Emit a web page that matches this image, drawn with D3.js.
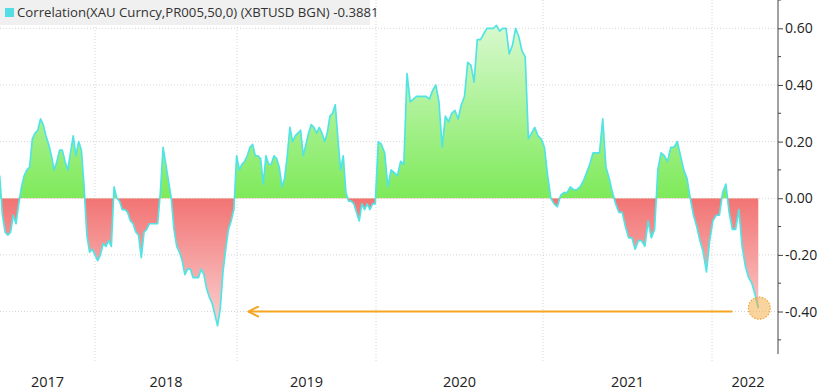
<!DOCTYPE html>
<html>
<head>
<meta charset="utf-8">
<script src="https://cdn.jsdelivr.net/npm/d3@7"></script>
<style>
body { margin: 0; background: #fff; }
svg { display: block; font-family: "Open Sans", sans-serif; }
</style>
</head>
<body>
<svg id="chart"></svg>
<script>
// DATA ////////////////////////////////////////////////////////////////////////////

// 50 day correlation of gold vs bitcoin, one reading per week (Mondays)
var corr2017 = [0.08, -0.06, -0.12, -0.13, -0.12, -0.06, -0.09, -0.02, 0.04, 0.08,
    0.10, 0.11, 0.21, 0.23, 0.24, 0.28, 0.26, 0.22, 0.19, 0.15,
    0.10, 0.13, 0.17, 0.17, 0.13, 0.10, 0.16, 0.22, 0.15, 0.20,
    0.17, 0.04, -0.13, -0.19, -0.18];
var corr2018 = [-0.20, -0.22, -0.20, -0.16, -0.17, -0.15, -0.17, 0.04, 0.00, -0.01,
    -0.04, -0.04, -0.05, -0.08, -0.09, -0.12, -0.13, -0.21, -0.12, -0.11,
    -0.09, -0.09, -0.09, -0.09, 0.02, 0.18, 0.12, 0.06, 0.00, -0.11,
    -0.17, -0.19, -0.22, -0.27, -0.25, -0.25, -0.28, -0.28, -0.28, -0.25,
    -0.27, -0.32, -0.35, -0.37, -0.41, -0.45, -0.39, -0.26, -0.18, -0.11,
    -0.08, -0.04, 0.15];
var corr2019 = [0.10, 0.12, 0.13, 0.15, 0.18, 0.19, 0.15, 0.15, 0.14, 0.05,
    0.15, 0.12, 0.12, 0.15, 0.14, 0.11, 0.04, 0.07, 0.15, 0.25,
    0.20, 0.22, 0.23, 0.24, 0.15, 0.19, 0.23, 0.26, 0.25, 0.23,
    0.25, 0.23, 0.20, 0.23, 0.29, 0.30, 0.33, 0.21, 0.10, 0.15,
    0.02, -0.01, -0.01, -0.02, -0.05, -0.08, -0.02, -0.04, -0.02, -0.04,
    -0.02, -0.02];
var corr2020 = [0.20, 0.19, 0.16, 0.04, 0.10, 0.09, 0.08, 0.13, 0.12, 0.44,
    0.34, 0.35, 0.36, 0.36, 0.36, 0.36, 0.35, 0.38, 0.40, 0.34,
    0.18, 0.29, 0.27, 0.30, 0.31, 0.28, 0.33, 0.36, 0.48, 0.47,
    0.41, 0.56, 0.56, 0.58, 0.60, 0.60, 0.60, 0.61, 0.59, 0.60,
    0.60, 0.51, 0.54, 0.60, 0.57, 0.52, 0.50, 0.21, 0.23, 0.25,
    0.22, 0.21];
var corr2021 = [0.18, 0.08, 0.00, -0.02, -0.03, 0.01, 0.02, 0.02, 0.04, 0.03,
    0.03, 0.04, 0.06, 0.09, 0.12, 0.16, 0.16, 0.16, 0.28, 0.11,
    0.07, 0.02, -0.02, -0.05, -0.05, -0.10, -0.14, -0.14, -0.18, -0.15,
    -0.15, -0.17, -0.08, -0.14, -0.11, 0.10, 0.16, 0.15, 0.13, 0.18,
    0.18, 0.20, 0.15, 0.10, 0.07, 0.00, -0.06, -0.10, -0.15, -0.19,
    -0.26, -0.15];
var corr2022 = [-0.08, -0.06, -0.06, 0.02, 0.05, -0.05, -0.11, -0.11, -0.04, -0.17,
    -0.24, -0.28, -0.30, -0.34, -0.3881];

var legendLabel = "Correlation(XAU Curncy,PR005,50,0) (XBTUSD BGN) -0.3881";
var yearLabels = [2017, 2018, 2019, 2020, 2021, 2022];
var yTicks = [-0.40, -0.20, 0.00, 0.20, 0.40, 0.60];
var yMinorTicks = [-0.50, -0.30, -0.10, 0.10, 0.30, 0.50, 0.70];

// annotation: arrow back to the 2018 low, ring round the latest reading
var arrowLevel = -0.40;
var arrowTail = new Date(2022, 1, 14);
var arrowHead = new Date(2019, 0, 31);

var corrValues = [].concat(corr2017, corr2018, corr2019, corr2020, corr2021, corr2022);
var weeks = d3.timeMonday.range(new Date(2017, 4, 1), new Date(2022, 3, 12));
var dataset = weeks.map(function (d, i) { return { date: d, value: corrValues[i] }; });

// SETUP ///////////////////////////////////////////////////////////////////////////

var WIDTH = 831, HEIGHT = 390;
var AXIS_X = 778, PLOT_BOTTOM = 354;

var svg = d3.select("#chart").attr("width", WIDTH).attr("height", HEIGHT);

// the years are not the same width on the reference, so one piece per year
var x = d3.scaleTime()
    .domain([new Date(2017, 0, 1), new Date(2018, 0, 1), new Date(2019, 0, 1), new Date(2020, 0, 1),
             new Date(2021, 0, 1), new Date(2022, 0, 1), new Date(2023, 0, 1)])
    .range([-47, 95, 237, 376, 543, 712, 881]);

var y = d3.scaleLinear().domain([-0.55, 0.70]).range([PLOT_BOTTOM, 0]);

var fmt = d3.formatLocale({ decimal: ".", thousands: ",", grouping: [3], currency: ["", ""], minus: "-" }).format(".2f");

var defs = svg.append("defs");

var gGreen = defs.append("linearGradient").attr("id", "gradPos")
    .attr("gradientUnits", "userSpaceOnUse")
    .attr("x1", 0).attr("x2", 0).attr("y1", y(0.62)).attr("y2", y(0));
gGreen.append("stop").attr("offset", 0).attr("stop-color", "#d9f9d0");
gGreen.append("stop").attr("offset", 1).attr("stop-color", "#7eea5a");

var gRed = defs.append("linearGradient").attr("id", "gradNeg")
    .attr("gradientUnits", "userSpaceOnUse")
    .attr("x1", 0).attr("x2", 0).attr("y1", y(0)).attr("y2", y(-0.46));
gRed.append("stop").attr("offset", 0).attr("stop-color", "#f27474");
gRed.append("stop").attr("offset", 1).attr("stop-color", "#fbd3d3");

defs.append("clipPath").attr("id", "clipPos")
    .append("rect").attr("x", 0).attr("y", 0).attr("width", AXIS_X).attr("height", y(0));
defs.append("clipPath").attr("id", "clipNeg")
    .append("rect").attr("x", 0).attr("y", y(0)).attr("width", AXIS_X).attr("height", PLOT_BOTTOM - y(0));

// chevron pointing along the line direction
defs.append("marker").attr("id", "arrowHead")
    .attr("viewBox", "0 0 12 12").attr("refX", 11).attr("refY", 6)
    .attr("markerWidth", 12).attr("markerHeight", 12)
    .attr("markerUnits", "userSpaceOnUse").attr("orient", "auto")
    .append("path").attr("d", "M1,1 L11,6 L1,11")
    .attr("fill", "none").attr("stroke", "#f5a623").attr("stroke-width", 2)
    .attr("stroke-linecap", "round").attr("stroke-linejoin", "round");

// GRID ////////////////////////////////////////////////////////////////////////////

svg.append("g").selectAll("line")
    .data(yTicks)
    .enter().append("line")
    .attr("x1", 0).attr("x2", AXIS_X)
    .attr("y1", function (d) { return y(d); })
    .attr("y2", function (d) { return y(d); })
    .attr("stroke", "#d6d6d6").attr("stroke-dasharray", "1,2");

svg.append("g").selectAll("line")
    .data(yearLabels.slice(1))
    .enter().append("line")
    .attr("x1", function (d) { return x(new Date(d, 0, 1)); })
    .attr("x2", function (d) { return x(new Date(d, 0, 1)); })
    .attr("y1", 0).attr("y2", 362)
    .attr("stroke", "#d6d6d6").attr("stroke-dasharray", "1,2");

// AREA + LINE /////////////////////////////////////////////////////////////////////

var area = d3.area()
    .x(function (d) { return x(d.date); })
    .y0(y(0))
    .y1(function (d) { return y(d.value); });

svg.append("path").datum(dataset)
    .attr("d", area).attr("fill", "url(#gradPos)").attr("clip-path", "url(#clipPos)");
svg.append("path").datum(dataset)
    .attr("d", area).attr("fill", "url(#gradNeg)").attr("clip-path", "url(#clipNeg)");

svg.append("path").datum(dataset)
    .attr("d", d3.line().x(function (d) { return x(d.date); }).y(function (d) { return y(d.value); }))
    .attr("fill", "none").attr("stroke", "#52e4e4").attr("stroke-width", 1.7)
    .attr("stroke-linejoin", "round");

// ANNOTATION //////////////////////////////////////////////////////////////////////

svg.append("line")
    .attr("x1", x(arrowTail)).attr("x2", x(arrowHead))
    .attr("y1", y(arrowLevel)).attr("y2", y(arrowLevel))
    .attr("stroke", "#f5a623").attr("stroke-width", 2)
    .attr("marker-end", "url(#arrowHead)");

var last = dataset[dataset.length - 1];
svg.append("circle")
    .attr("cx", x(last.date) + 1).attr("cy", y(last.value))
    .attr("r", 11)
    .attr("fill", "rgba(245,170,60,0.5)")
    .attr("stroke", "#f0a43a").attr("stroke-width", 1.2).attr("stroke-dasharray", "1.5,1.5");

// AXES ////////////////////////////////////////////////////////////////////////////

var yAxis = svg.append("g")
    .attr("transform", "translate(" + AXIS_X + ",0)")
    .call(d3.axisRight(y).tickValues(yTicks).tickFormat(fmt).tickSize(5).tickPadding(2));
yAxis.select(".domain").attr("d", "M0,0V" + PLOT_BOTTOM).attr("stroke", "#444");
yAxis.selectAll(".tick line").attr("stroke", "#444");
yAxis.selectAll("text").attr("font-size", 14).attr("fill", "#222")
    .attr("font-family", "'Open Sans', sans-serif");

svg.append("g").attr("transform", "translate(" + AXIS_X + ",0)")
    .selectAll("line")
    .data(yMinorTicks)
    .enter().append("line")
    .attr("x1", 0).attr("x2", 3)
    .attr("y1", function (d) { return y(d); })
    .attr("y2", function (d) { return y(d); })
    .attr("stroke", "#444");

// year labels sit in the middle of the visible part of each year
svg.append("g").selectAll("text")
    .data(yearLabels)
    .enter().append("text")
    .attr("x", function (d) {
        var a = Math.max(0, x(new Date(d, 0, 1)));
        var b = Math.min(784, x(new Date(d + 1, 0, 1)));
        return (a + b) / 2;
    })
    .attr("y", 387)
    .attr("text-anchor", "middle")
    .attr("font-size", 14.5).attr("fill", "#222")
    .text(function (d) { return d; });

// LEGEND //////////////////////////////////////////////////////////////////////////

svg.append("rect").attr("x", 0).attr("y", 0).attr("width", 370).attr("height", 25).attr("fill", "#f0f0f0");
svg.append("rect").attr("x", 5).attr("y", 8).attr("width", 9).attr("height", 9).attr("fill", "#55dde6");
svg.append("text").attr("x", 17).attr("y", 17)
    .attr("font-size", 13.2).attr("fill", "#333")
    .text(legendLabel);
</script>
</body>
</html>
